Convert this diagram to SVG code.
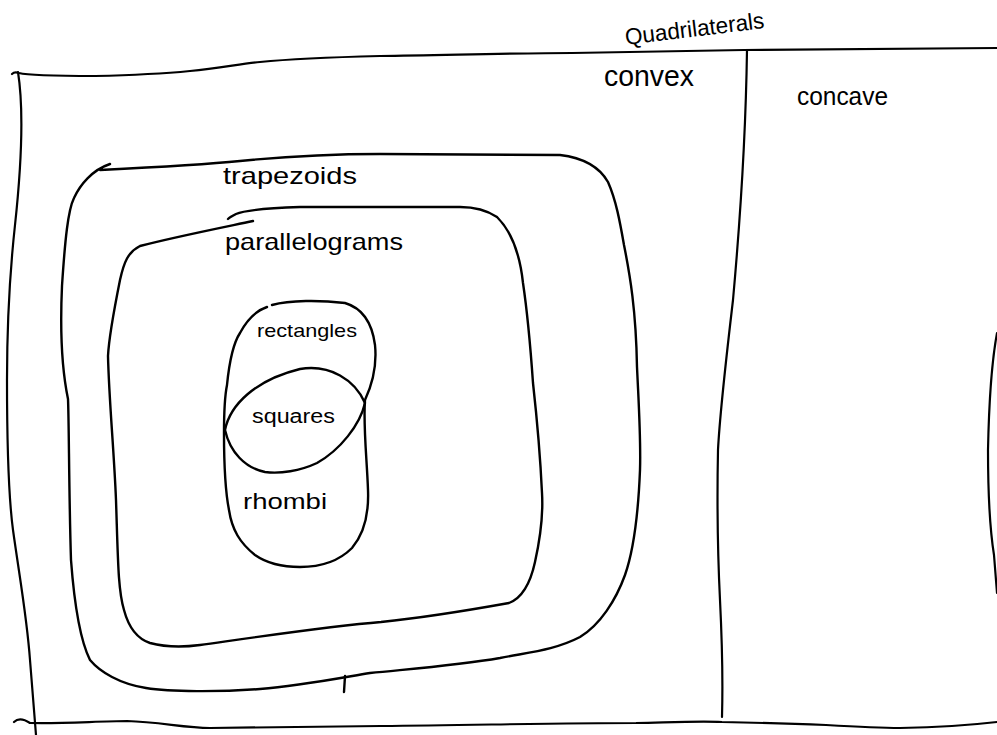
<svg xmlns="http://www.w3.org/2000/svg" width="997" height="735" viewBox="0 0 997 735">
  <style>
    .ln { fill: none; stroke: #000; stroke-width: 2.4; stroke-linecap: round; stroke-linejoin: round; }
    .fr { fill: none; stroke: #000; stroke-width: 2.2; stroke-linecap: round; stroke-linejoin: round; }
    .tx { font-family: "Liberation Sans", "DejaVu Sans", sans-serif; fill: #000; }
  </style>
  <rect x="0" y="0" width="997" height="735" fill="#fff"/>

  <g id="quadrilaterals">
    <path class="fr" d="M 12,74 C 14,72 16,72 19,73 C 30,76 60,76 95,76 C 140,75 170,73 190,71 C 220,68 240,64 260,62 C 300,58 340,57 380,56 C 450,55 520,53 572,53 L 744,50 L 997,48"/>
    <path class="fr" d="M 18,72 C 24,110 22,160 15,225 C 9,280 7,330 7,380 C 7,450 9,500 13,530 C 20,580 27,618 30,660 L 36,735"/>
    <path class="fr" d="M 14,722 C 18,718 24,719 30,723 C 60,724 100,721 127,721 C 160,722 185,728 210,728 C 280,727 340,726 381,726 C 480,725 560,723 636,723 C 680,722 700,721 722,722 C 770,723 800,724 826,725 C 860,727 880,728 900,728 C 950,727 980,724 997,722"/>
    <path class="fr" d="M 997,333 C 992,360 989,400 988,450 C 988,500 990,530 994,555 L 997,593"/>
    <text class="tx" x="626" y="45" font-size="23" textLength="140" lengthAdjust="spacingAndGlyphs" transform="rotate(-7 626 45)">Quadrilaterals</text>
  </g>

  <g id="divider">
    <path class="fr" d="M 747,50 C 746,120 742,200 733,300 C 726,360 720,410 718,450 C 717,500 718,560 720,600 C 722,640 723,680 722,717"/>
  </g>

  <g id="convex">
    <text class="tx" x="604" y="86" font-size="29" textLength="90" lengthAdjust="spacingAndGlyphs">convex</text>
  </g>

  <g id="concave">
    <text class="tx" x="797" y="105" font-size="25" textLength="91" lengthAdjust="spacingAndGlyphs">concave</text>
  </g>

  <g id="trapezoids">
    <path class="ln" d="M 100,170 C 140,168 200,165 240,161 C 290,156 330,154 380,154 L 560,155 C 585,158 600,168 608,182 C 616,200 620,222 624,245 C 630,275 636,310 637,367 C 639,410 641,440 640,470 C 638,520 632,555 625,575 C 616,600 600,625 580,637 C 555,650 530,652 500,658 C 460,665 420,668 370,673 C 340,678 300,686 260,689 C 220,692 170,692 146,688 C 120,684 100,672 90,660 C 80,640 74,600 71,560 C 69,500 69,420 68,399 C 62,370 60,330 62,286 C 65,240 68,210 74,198 C 80,185 92,170 110,164"/>
    <path class="ln" d="M 345,676 L 344,692"/>
    <text class="tx" x="223" y="184" font-size="24" textLength="134" lengthAdjust="spacingAndGlyphs">trapezoids</text>
  </g>

  <g id="parallelograms">
    <path class="ln" d="M 253,221 C 210,230 170,238 140,246 C 128,252 124,262 120,280 C 114,310 109,335 108,356 C 109,400 114,450 116,500 C 118,560 118,590 124,610 C 128,625 135,638 150,643 C 165,647 185,647 200,645 C 250,638 330,626 381,622 C 420,618 470,610 509,603 C 522,598 530,585 535,562 C 541,535 543,510 542,493 C 540,450 536,410 533,383 C 530,340 527,310 523,283 C 520,255 512,232 497,217 C 485,209 470,207 460,207 L 300,207 C 270,208 245,210 236,214 C 232,216 229,218 228,219"/>
    <text class="tx" x="225" y="250" font-size="24" textLength="178" lengthAdjust="spacingAndGlyphs">parallelograms</text>
  </g>

  <g id="rectangles-rhombi">
    <path class="ln" d="M 272,305 C 290,300 320,300 345,303 C 362,308 372,322 375,345 C 377,365 372,385 365,400 C 363,425 367,460 368,490 C 369,515 363,535 352,548 C 338,562 320,567 300,567 C 280,567 265,562 255,555 C 240,543 232,530 229,510 C 225,490 224,460 224,433 C 224,410 225,395 227,385 C 229,365 232,345 240,333 C 248,318 258,310 267,307"/>
  </g>

  <g id="rectangles">
    <text class="tx" x="257" y="337" font-size="19" textLength="100" lengthAdjust="spacingAndGlyphs">rectangles</text>
  </g>

  <g id="squares">
    <path class="ln" d="M 225,430 C 230,405 255,380 300,369 C 330,364 355,380 365,403 C 360,425 340,450 317,463 C 300,471 280,474 265,472 C 245,468 230,452 225,430 Z"/>
    <text class="tx" x="252" y="423" font-size="20" textLength="83" lengthAdjust="spacingAndGlyphs">squares</text>
  </g>

  <g id="rhombi">
    <text class="tx" x="243" y="509" font-size="22" textLength="84" lengthAdjust="spacingAndGlyphs">rhombi</text>
  </g>
</svg>
